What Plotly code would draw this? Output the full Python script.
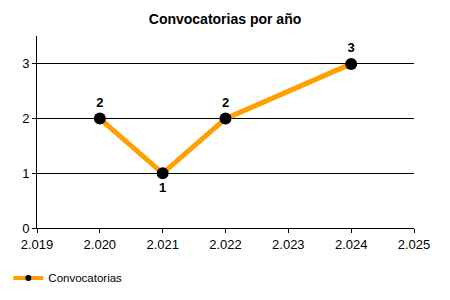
import plotly.graph_objects as go

years = [2020, 2021, 2022, 2024]
counts = [2, 1, 2, 3]
label_pos = ["top center", "bottom center", "top center", "top center"]
tick_vals = [2019, 2020, 2021, 2022, 2023, 2024, 2025]
tick_text = ["2.019", "2.020", "2.021", "2.022", "2.023", "2.024", "2.025"]
series_name = "Convocatorias"

fig = go.Figure()
fig.add_trace(go.Scatter(
    x=years, y=counts, mode="lines+markers+text", name=series_name,
    showlegend=False,
    line=dict(color="#FF9F00", width=5),
    marker=dict(color="black", size=12),
    text=[str(v) for v in counts], textposition=label_pos,
    textfont=dict(family="Liberation Sans", size=13, color="black", weight="bold"),
    cliponaxis=False,
))
# legend-only entry with a smaller marker
fig.add_trace(go.Scatter(
    x=[None], y=[None], mode="lines+markers", name=series_name,
    line=dict(color="#FF9F00", width=4),
    marker=dict(color="black", size=6),
))

fig.update_layout(
    width=450, height=300,
    margin=dict(l=37, r=36, t=36, b=72, autoexpand=False),
    paper_bgcolor="white", plot_bgcolor="white",
    font=dict(family="Liberation Sans", size=12, color="black"),
    title=dict(text="<b>Convocatorias por año</b>", x=0.5, xanchor="center",
               y=1 - 19/300, yanchor="middle",
               font=dict(family="Liberation Sans", size=14, color="black")),
    showlegend=True,
    legend=dict(orientation="h", x=-0.076, xanchor="left", y=-0.26, yanchor="middle",
                font=dict(family="Liberation Sans", size=11.5, color="black"),
                bgcolor="rgba(0,0,0,0)"),
    xaxis=dict(range=[2019, 2025], tickvals=tick_vals, ticktext=tick_text,
               showgrid=False, zeroline=False, showline=True, linecolor="black",
               linewidth=1, ticks="outside", ticklen=4, tickcolor="black",
               tickfont=dict(size=13)),
    yaxis=dict(range=[0, 3.51], tickvals=[0, 1, 2, 3], showgrid=True,
               gridcolor="black", gridwidth=1, zeroline=False, showline=True,
               linecolor="black", linewidth=1, ticks="outside", ticklen=4,
               tickcolor="black", tickfont=dict(size=13)),
)

fig.write_html("out.html")
